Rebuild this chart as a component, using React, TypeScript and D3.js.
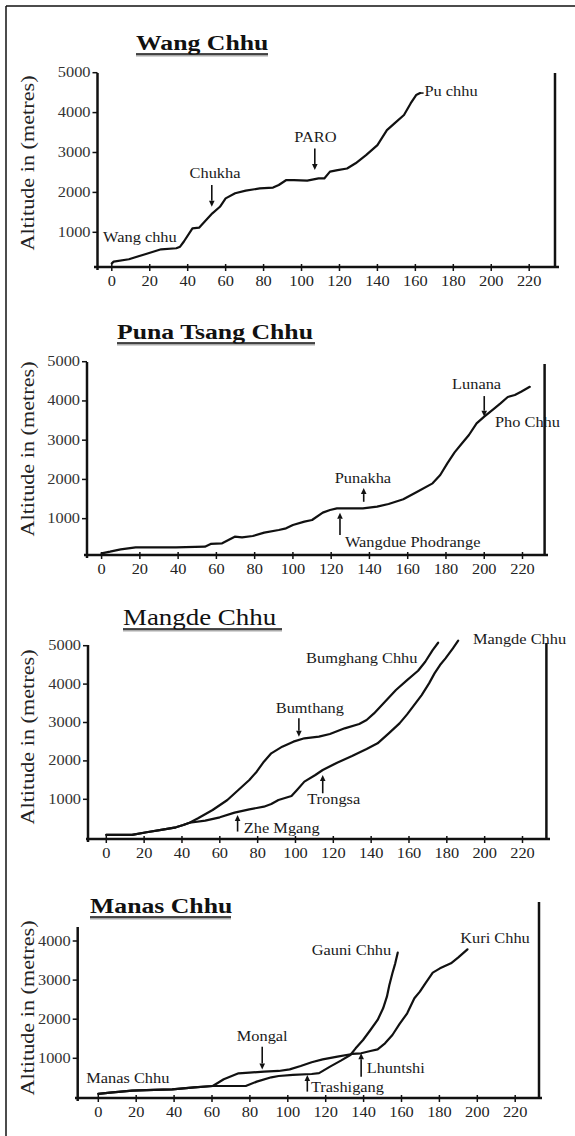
import React from "react";
import * as d3 from "d3";

// ---------- DATA (distance km, altitude m) ----------
const xTicks = [0, 20, 40, 60, 80, 100, 120, 140, 160, 180, 200, 220];
const yTicks5000 = [1000, 2000, 3000, 4000, 5000];
const yTicks4000 = [1000, 2000, 3000, 4000];

const wangChhu: [number, number][] = [[0,220],[1,265],[9,324],[18,457],[26,574],[34,600],[36,640],[38,770],[42.5,1100],[46,1115],[49,1270],[53,1475],[57,1640],[60,1850],[65,1980],[70.6,2045],[78,2100],[85,2120],[88,2185],[92,2310],[96,2310],[103,2295],[109,2350],[112,2350],[115,2520],[119,2560],[124,2600],[128.5,2730],[134,2935],[140,3185],[145,3560],[149,3730],[154,3940],[157.5,4230],[160.4,4440],[162.5,4490]];

const punaTsangChhu: [number, number][] = [[0,117],[4.4,159],[10,219],[17.8,270],[27.4,270],[38.9,270],[54,287],[57,355],[63,372],[69.6,541],[73.4,524],[79,558],[85,643],[92.6,711],[96.4,754],[100,839],[106,924],[110,966],[115.6,1153],[119.4,1221],[123,1263],[129,1263],[136.6,1263],[144,1306],[150,1374],[157.7,1493],[165,1688],[173,1900],[177,2112],[180.7,2410],[184.5,2690],[188.4,2920],[192,3132],[196,3429],[200,3600],[204.7,3786],[208.5,3939],[212.3,4100],[216,4150],[219.5,4240],[223.8,4360]];

const mangdeChhu: [number, number][] = [[0,72],[13.6,72],[21.3,141],[29,202],[36.8,271],[40.7,330],[44,390],[52.3,444],[60,531],[67.8,652],[75.6,738],[83.3,808],[87.2,877],[91,982],[97.9,1086],[100.8,1242],[104.7,1460],[110.5,1633],[114.4,1763],[122,1954],[129.9,2127],[137.6,2310],[143.4,2457],[149.3,2717],[155,2978],[159,3212],[166.7,3715],[170.6,4019],[173.5,4279],[176.4,4496],[179.3,4670],[183.2,4930],[186,5130]];

const bumthangChhu: [number, number][] = [[0,72],[13.6,72],[21.3,141],[29,202],[36.8,271],[40.7,330],[44,390],[48.5,505],[56.2,722],[64,982],[69.8,1242],[75.6,1503],[79.5,1720],[83.3,1980],[87.2,2197],[93,2371],[98.9,2501],[104.7,2588],[112.4,2631],[118.2,2700],[126,2848],[133.7,2960],[137.6,3064],[141.5,3237],[147.3,3541],[153.1,3845],[159,4105],[164.8,4348],[168.6,4582],[172.5,4886],[175.4,5077]];

const kuriChhu: [number, number][] = [[0,88],[6.2,122],[17.8,173],[29.4,190],[39,207],[50.7,258],[60.4,292],[66.2,463],[74,616],[79.7,633],[87.5,659],[95.2,676],[101,718],[106.8,804],[112.6,898],[118.4,974],[126.2,1043],[134,1111],[138.7,1128],[143.6,1187],[147.4,1230],[151.3,1383],[155.2,1596],[159,1878],[163,2150],[166.8,2534],[169.7,2705],[172.6,2918],[176.5,3190],[180.3,3301],[186.1,3429],[190,3582],[194.8,3787]];

const gauniChhu: [number, number][] = [[0,88],[6.2,122],[17.8,173],[29.4,190],[39,207],[50.7,258],[60.4,292],[77.8,292],[83.6,403],[91.3,514],[95.2,548],[102.7,574],[112.6,599],[116.5,620],[122.3,787],[128,940],[133,1085],[135.8,1255],[139.7,1468],[143.6,1724],[147.4,1980],[150.3,2278],[152.3,2576],[153.6,2875],[155.2,3173],[156.7,3429],[158,3701]];

// labels: [text, km, alt, anchor]
type Lab = [string, number, number, string];
// arrows: [km, tailAlt, headAlt]
type Arr = [number, number, number];

const wangLabels: Lab[] = [["Wang chhu", -4.6, 764, "start"], ["Chukha", 54.4, 2360, "middle"], ["PARO", 107.3, 3270, "middle"], ["Pu chhu", 164.8, 4416, "start"]];
const wangArrows: Arr[] = [[52.7, 2185, 1642], [107, 3100, 2560]];

const punaLabels: Lab[] = [["Lunana", 196, 4300, "middle"], ["Pho Chhu", 205.6, 3345, "start"], ["Punakha", 136.6, 1900, "middle"], ["Wangdue Phodrange", 127.2, 285, "start"]];
const punaArrows: Arr[] = [[200, 4124, 3600], [137, 1430, 1780], [124.6, 583, 1150]];

const mangdeLabels: Lab[] = [["Mangde Chhu", 193.8, 5043, "start"], ["Bumghang Chhu", 105.6, 4553, "start"], ["Bumthang", 107.6, 3238, "middle"], ["Trongsa", 120.2, 875, "middle"], ["Zhe Mgang", 72.7, 132, "start"]];
const mangdeArrows: Arr[] = [[101.8, 3110, 2630], [114.4, 1157, 1634], [69.4, 160, 594]];

const manasLabels: Lab[] = [["Gauni Chhu", 112.6, 3642, "start"], ["Kuri Chhu", 191, 3940, "start"], ["Mongal", 86.5, 1430, "middle"], ["Manas Chhu", -6.4, 360, "start"], ["Trashigang", 112.2, 148, "start"], ["Lhuntshi", 141.6, 616, "start"]];
const manasArrows: Arr[] = [[86.5, 1296, 716], [110.3, 148, 574], [138.7, 531, 1128]];

// ---------- LAYOUT ----------
const panels = [
  { title: "Wang Chhu", bold: true, titleX: 136, titleY: 50, titleW: 132,
    x0: 111.8, x220: 529.2, y0: 272.2, y5000: 72.7, leftX: 97.5, leftTop: 73, base: 267, rightX: 555, rightTop: 73, axL: 94, axR: 559,
    yTicks: yTicks5000, lines: [wangChhu], labels: wangLabels, arrows: wangArrows, yLabelC: 163, dash: true },
  { title: "Puna Tsang Chhu", bold: true, titleX: 117, titleY: 339, titleW: 198,
    x0: 101.6, x220: 522.5, y0: 557.9, y5000: 361.7, leftX: 87, leftTop: 362, base: 555, rightX: 544.6, rightTop: 364, axL: 84, axR: 548,
    yTicks: yTicks5000, lines: [punaTsangChhu], labels: punaLabels, arrows: punaArrows, yLabelC: 449, dash: false },
  { title: "Mangde Chhu", bold: false, titleX: 123, titleY: 625, titleW: 159,
    x0: 106.3, x220: 522.5, y0: 837.7, y5000: 645.7, leftX: 88, leftTop: 645, base: 839, rightX: 546.4, rightTop: 643, axL: 86, axR: 550,
    yTicks: yTicks5000, lines: [mangdeChhu, bumthangChhu], labels: mangdeLabels, arrows: mangdeArrows, yLabelC: 737, dash: false },
  { title: "Manas Chhu", bold: true, titleX: 90, titleY: 913, titleW: 141,
    x0: 98.3, x220: 515.2, y0: 1097.4, y5000: 901.9, leftX: 77.7, leftTop: 927, base: 1098, rightX: 539, rightTop: 902, axL: 75, axR: 542,
    yTicks: yTicks4000, lines: [kuriChhu, gauniChhu], labels: manasLabels, arrows: manasArrows, yLabelC: 1008, dash: false },
];

const FONT = "'Liberation Serif', 'Times New Roman', serif";
const SX = 1.17;

function T({ x, y, children, size = 14, anchor = "start", weight = "normal", rotate = 0, fill = "#111" }: any) {
  const tr = rotate ? `translate(${x},${y}) rotate(${rotate}) scale(${SX},1)` : `translate(${x},${y}) scale(${SX},1)`;
  return (
    <text transform={tr} fontFamily={FONT} fontSize={size} textAnchor={anchor} fontWeight={weight} fill={fill}>
      {children}
    </text>
  );
}

function Panel({ p }: any) {
  const x = d3.scaleLinear().domain([0, 220]).range([p.x0, p.x220]);
  const y = d3.scaleLinear().domain([0, 5000]).range([p.y0, p.y5000]);
  const line = d3.line<[number, number]>().x((d) => x(d[0])).y((d) => y(d[1])).curve(d3.curveLinear);
  const titleEnd = p.titleX + p.titleW;
  return (
    <g>
      {/* title */}
      <T x={p.titleX} y={p.titleY} size={p.bold ? 22 : 23} weight={p.bold ? "bold" : "normal"}>{p.title}</T>
      <line x1={p.titleX} x2={titleEnd} y1={p.titleY + 5.5} y2={p.titleY + 5.5} stroke="#aaa" strokeWidth={2} />
      <line x1={p.titleX} x2={titleEnd} y1={p.titleY + 4} y2={p.titleY + 4} stroke="#111" strokeWidth={1.4} />
      {/* y label */}
      <T x={34} y={p.yLabelC} size={19} anchor="middle" rotate={-90} fill="#222">Altitude in (metres)</T>
      {/* axes */}
      <line x1={p.leftX} x2={p.leftX} y1={p.leftTop} y2={p.base + 3} stroke="#111" strokeWidth={2.5} />
      <line x1={p.rightX} x2={p.rightX} y1={p.rightTop} y2={p.base} stroke="#111" strokeWidth={2.5} />
      <line x1={p.axL} x2={p.axR} y1={p.base} y2={p.base} stroke="#111" strokeWidth={2.5} />
      {xTicks.map((t) => (
        <g key={"x" + t}>
          <line x1={x(t)} x2={x(t)} y1={p.base - 3} y2={p.base + 4} stroke="#111" strokeWidth={1.5} />
          <T x={x(t)} y={p.base + 19} anchor="middle" fill="#222">{t}</T>
        </g>
      ))}
      {p.yTicks.map((t: number) => (
        <g key={"y" + t}>
          <line x1={p.leftX - 5} x2={p.leftX} y1={y(t)} y2={y(t)} stroke="#111" strokeWidth={1.5} />
          <T x={p.leftX - 7} y={y(t) + 4.5} anchor="end" fill="#333">{t}</T>
        </g>
      ))}
      {/* profile lines */}
      {p.lines.map((d: [number, number][], i: number) => (
        <path key={"l" + i} d={line(d) || ""} fill="none" stroke="#111" strokeWidth={2.2} strokeLinejoin="round" strokeLinecap="round" />
      ))}
      {p.dash && (() => {
        const last = p.lines[0][p.lines[0].length - 1];
        return <line x1={x(last[0])} x2={x(last[0]) + 3.5} y1={y(last[1])} y2={y(last[1])} stroke="#111" strokeWidth={1.5} />;
      })()}
      {/* arrows */}
      {p.arrows.map((a: Arr, i: number) => {
        const ax = x(a[0]);
        const yt = y(a[1]);
        const yh = y(a[2]);
        const dir = yh > yt ? 1 : -1;
        const hl = 6;
        return (
          <g key={"a" + i}>
            <line x1={ax} x2={ax} y1={yt} y2={yh - dir * hl} stroke="#111" strokeWidth={1.6} />
            <path d={`M${ax - 2.8},${yh - dir * hl} L${ax + 2.8},${yh - dir * hl} L${ax},${yh} Z`} fill="#111" />
          </g>
        );
      })}
      {/* labels */}
      {p.labels.map((l: Lab, i: number) => (
        <T key={"t" + i} x={x(l[1])} y={y(l[2])} anchor={l[3]} fill="#1a1a1a">{l[0]}</T>
      ))}
    </g>
  );
}

export default function App() {
  return (
    <svg width={575} height={1136} style={{ position: "absolute", left: 0, top: 0, display: "block", background: "#fff" }}>
      <rect x={0} y={0} width={575} height={1136} fill="#fff" />
      <line x1={6} x2={575} y1={6} y2={6} stroke="#111" strokeWidth={1.5} />
      <line x1={6} x2={6} y1={6} y2={1136} stroke="#111" strokeWidth={1.5} />
      {panels.map((p, i) => (
        <Panel key={i} p={p} />
      ))}
    </svg>
  );
}
